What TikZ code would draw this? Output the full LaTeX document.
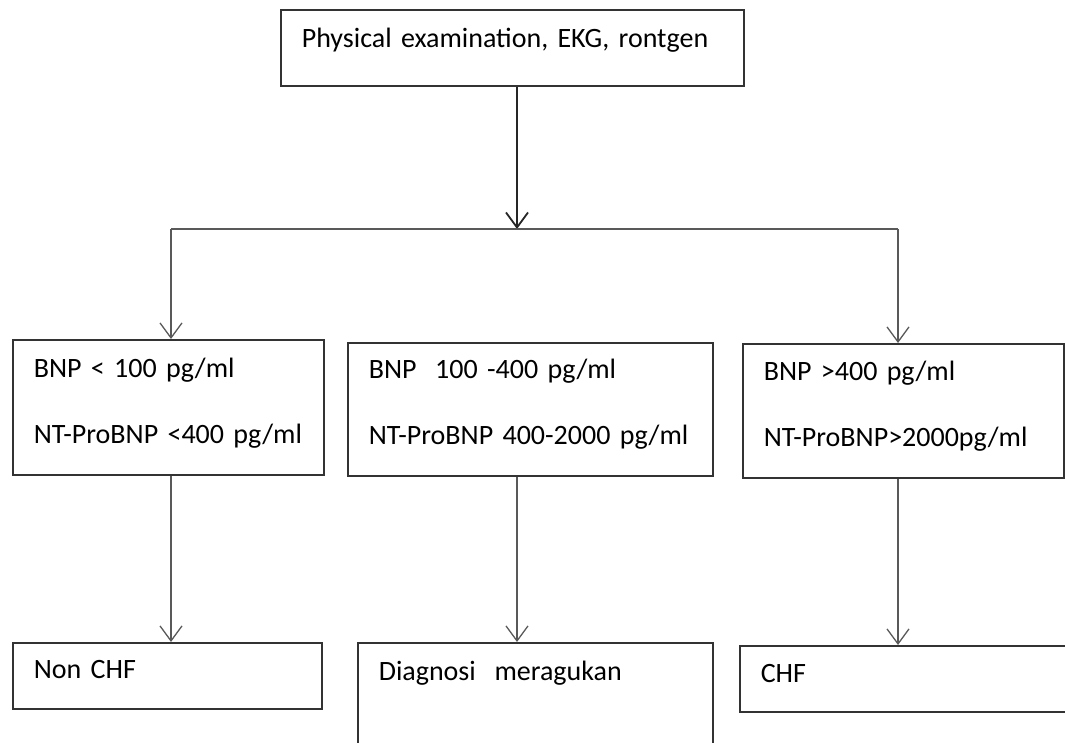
\documentclass[tikz,border=0pt]{standalone}
\usepackage{fontspec}
\setmainfont{Carlito}
\usetikzlibrary{arrows.meta}

\begin{document}
\begin{tikzpicture}[x=1pt,y=-1pt,
    box/.style={draw=black!80,line width=1.6pt,anchor=north west,
      inner xsep=21pt,inner ysep=0pt,align=left,
      font=\fontsize{28}{66}\selectfont},
    link/.style={draw=black!65,line width=1.3pt},
    >={Straight Barb[length=15pt,width=22pt]}]

        %------------------
        % 枠
        %------------------
        \clip (0,0) rectangle (1065,742);

        \node[box,text width=421pt,text height=38pt,text depth=38pt]
          (top) at (280,9) {Physical examination, EKG, rontgen};

        \node[box,text width=269pt,text height=38pt,text depth=97pt]
          (bnpLow) at (12,339) {BNP < 100 pg/ml\\NT-ProBNP <400 pg/ml};
        \node[box,text width=323pt,text height=36pt,text depth=97pt]
          (bnpMid) at (347,342) {BNP\ \ 100 -400 pg/ml\\NT-ProBNP 400-2000 pg/ml};
        \node[box,text width=279pt,text height=37pt,text depth=97pt]
          (bnpHigh) at (742,343) {BNP >400 pg/ml\\NT-ProBNP>2000pg/ml};

        \node[box,text width=267pt,text height=36pt,text depth=30pt]
          (nonChf) at (12,642) {Non CHF};
        \node[box,text width=313pt,text height=38pt,text depth=200pt]
          (ragu) at (357,642) {Diagnosi\ \ meragukan};
        \node[box,text width=358pt,text height=37pt,text depth=29pt]
          (chf) at (739,645) {CHF};

        %------------------
        % 分岐
        %------------------
        \coordinate (split) at (517,229);
        \coordinate (splitL) at (171,229);
        \coordinate (splitR) at (898,229);

        \draw[->,draw=black!85,line width=1.8pt] (split |- top.south) -- (split);
        \draw[link] (splitL) -- (splitR);

        %------------------
        % 矢印
        %------------------
        \draw[link,->] (splitL) -- (splitL |- bnpLow.north);
        \draw[link,->] (splitR) -- (splitR |- bnpHigh.north);

        \draw[link,->] (splitL |- bnpLow.south) -- (splitL |- nonChf.north);
        \draw[link,->] (split |- bnpMid.south) -- (split |- ragu.north);
        \draw[link,->] (splitR |- bnpHigh.south) -- (splitR |- chf.north);
      \end{tikzpicture}
\end{document}
